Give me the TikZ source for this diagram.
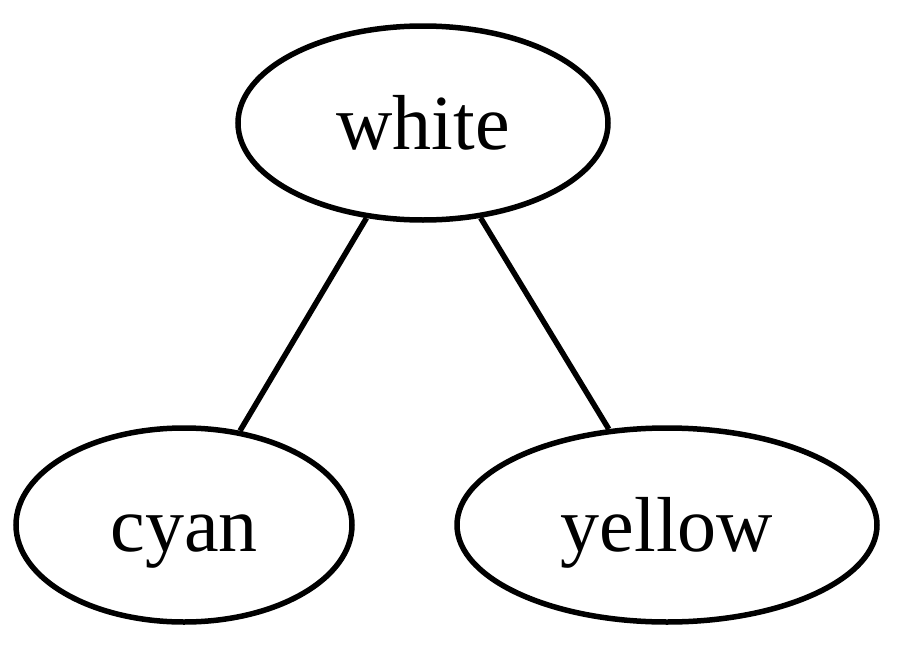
\documentclass[tikz,border=0pt]{standalone}
\usepackage{fontspec}
\setmainfont{Liberation Serif}
\usetikzlibrary{shapes.geometric}
\begin{document}
\begin{tikzpicture}[x=1pt,y=-1pt,
  gnode/.style={draw,ellipse,line width=5.5pt,inner sep=0pt,text height=60pt,text depth=8pt,font=\fontsize{78}{90}\selectfont},
  gedge/.style={line width=5.5pt}]
\useasboundingbox (0,0) rectangle (900,653);
\node[gnode,minimum width=370pt,minimum height=194pt] (white) at (423,123) {white};
\node[gnode,minimum width=336pt,minimum height=194pt] (cyan) at (184,525) {cyan};
\node[gnode,minimum width=420pt,minimum height=194pt] (yellow) at (667,525) {yellow};
\draw[gedge] (white) -- (cyan);
\draw[gedge] (white) -- (yellow);
\end{tikzpicture}
\end{document}
